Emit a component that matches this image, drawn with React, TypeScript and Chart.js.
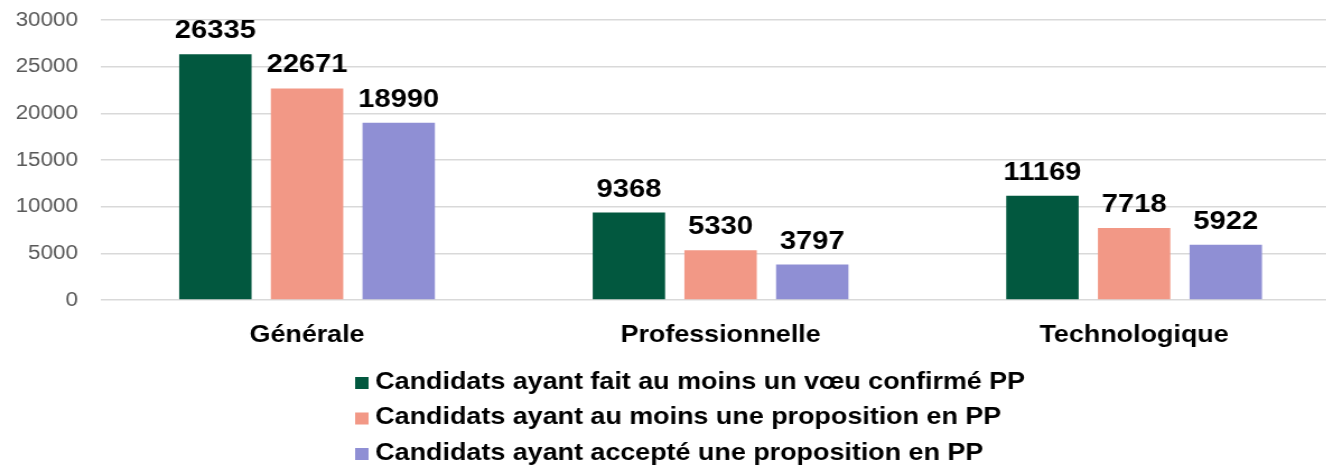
import React, { useEffect, useRef } from 'react';
import { Chart, registerables } from 'chart.js';

Chart.register(...registerables);

// ---- data ----
const categories = ['Générale', 'Professionnelle', 'Technologique'];
const seriesLabels = [
  'Candidats ayant fait au moins un vœu confirmé PP',
  'Candidats ayant au moins une proposition en PP',
  'Candidats ayant accepté une proposition en PP',
];
const voeuConfirme = [26335, 9368, 11169];
const propositionRecue = [22671, 5330, 7718];
const propositionAcceptee = [18990, 3797, 5922];
const seriesColors = ['#02583f', '#f29886', '#8f8fd4'];
const yMin = 0;
const yMax = 30000;
const yStep = 5000;

// ---- layout constants (the picture is horizontally stretched) ----
const FONT = "'Liberation Sans', Arial, Helvetica, sans-serif";
const STRETCH = 1.12;
const CSS_W = 1342;
const CSS_H = 476;
const LOGICAL_W = Math.round(CSS_W / STRETCH);

const valueLabelPlugin = {
  id: 'valueLabels',
  afterDatasetsDraw(chart: any) {
    const ctx = chart.ctx;
    ctx.save();
    ctx.font = `bold 26px ${FONT}`;
    ctx.fillStyle = '#000000';
    ctx.textAlign = 'center';
    ctx.textBaseline = 'alphabetic';
    chart.data.datasets.forEach((ds: any, di: number) => {
      const meta = chart.getDatasetMeta(di);
      meta.data.forEach((el: any, i: number) => {
        ctx.fillText(String(ds.data[i]), el.x, el.y - 16);
      });
    });
    ctx.restore();
  },
};

const rowLegendPlugin = {
  id: 'rowLegend',
  afterDraw(chart: any) {
    const ctx = chart.ctx;
    ctx.save();
    ctx.font = `bold 24px ${FONT}`;
    ctx.textAlign = 'left';
    ctx.textBaseline = 'middle';
    const left = 317;
    const top = chart.chartArea.bottom + 82;
    const rowGap = 35.5;
    chart.data.datasets.forEach((ds: any, i: number) => {
      const y = top + i * rowGap;
      ctx.fillStyle = ds.backgroundColor;
      ctx.fillRect(left, y - 5, 12, 12);
      ctx.fillStyle = '#000000';
      ctx.fillText(ds.label, left + 18, y);
    });
    ctx.restore();
  },
};

export default function App() {
  const canvasRef = useRef<HTMLCanvasElement | null>(null);

  useEffect(() => {
    const canvas = canvasRef.current;
    if (!canvas) return;
    const seriesValues = [voeuConfirme, propositionRecue, propositionAcceptee];
    const chart = new Chart(canvas, {
      type: 'bar',
      data: {
        labels: categories,
        datasets: seriesValues.map((vals, i) => ({
          label: seriesLabels[i],
          data: vals,
          backgroundColor: seriesColors[i],
          borderWidth: 0,
          categoryPercentage: 0.665,
          barPercentage: 0.79,
        })),
      },
      options: {
        responsive: false,
        animation: false,
        devicePixelRatio: 1,
        layout: { padding: { left: 0, right: 1, top: 20, bottom: 116 } },
        plugins: {
          legend: { display: false },
          tooltip: { enabled: false },
          title: { display: false },
        },
        scales: {
          x: {
            grid: { display: false, drawTicks: false },
            border: { display: false },
            ticks: {
              padding: 21,
              color: '#000000',
              font: { family: FONT, size: 24, weight: 'bold' },
              maxRotation: 0,
              autoSkip: false,
            },
            afterFit: (s: any) => {
              s.height = 60;
            },
          },
          y: {
            min: yMin,
            max: yMax,
            grid: {
              color: '#d9d9d9',
              lineWidth: 1.6,
              drawTicks: true,
              tickLength: 20,
              tickColor: 'rgba(0,0,0,0)',
            },
            border: { display: false },
            ticks: {
              stepSize: yStep,
              padding: 0,
              color: '#595959',
              font: { family: FONT, size: 20 },
              callback: (v: any) => String(v),
            },
            afterFit: (s: any) => {
              s.width = 89.5;
            },
          },
        },
      },
      plugins: [valueLabelPlugin, rowLegendPlugin],
    } as any);
    return () => chart.destroy();
  }, []);

  return (
    <div
      style={{
        position: 'fixed',
        left: 0,
        top: 0,
        width: 1326,
        height: CSS_H,
        overflow: 'hidden',
        background: '#ffffff',
      }}
    >
      <canvas
        ref={canvasRef}
        width={LOGICAL_W}
        height={CSS_H}
        style={{ width: `${CSS_W}px`, height: `${CSS_H}px`, display: 'block' }}
      />
    </div>
  );
}
